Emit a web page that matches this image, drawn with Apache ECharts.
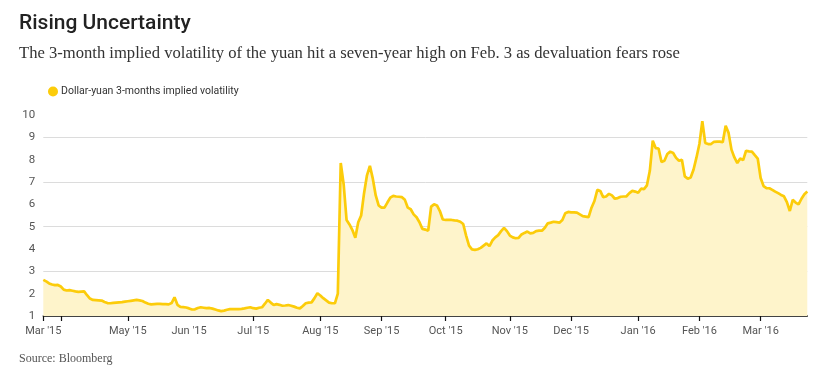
<!DOCTYPE html>
<html>
<head>
<meta charset="utf-8">
<script src="https://cdn.jsdelivr.net/npm/echarts@6/dist/echarts.min.js"></script>
<style>
  html, body { margin: 0; padding: 0; background: #fff; }
  #chart { width: 824px; height: 382px; }
</style>
</head>
<body>
<div id="chart"></div>
<script>
// ---- Data ----
const titleText = "Rising Uncertainty";
const subtitleText = "The 3-month implied volatility of the yuan hit a seven-year high on Feb. 3 as devaluation fears rose";
const sourceText = "Source: Bloomberg";
const seriesName = "Dollar-yuan 3-months implied volatility";

// month labels and number of observations in each month segment
const monthLabels = ["Mar '15", "May '15", "Jun '15", "Jul '15", "Aug '15", "Sep '15", "Oct '15", "Nov '15", "Dec '15", "Jan '16", "Feb '16", "Mar '16"];
const monthPoints = [29, 21, 22, 23, 21, 22, 22, 21, 23, 21, 21, 17];
const monthsWithoutTick = ["Jun '15"];
const extraTickIndex = [6];

const yTicks = [1, 2, 3, 4, 5, 6, 7, 8, 9, 10];

// implied volatility values (%), one per observation, grouped by month segment
const volMarApr15 = [2.62, 2.55, 2.46, 2.41, 2.38, 2.39, 2.32, 2.18, 2.14, 2.16, 2.13, 2.10, 2.08, 2.09, 2.10, 1.93, 1.78, 1.72, 1.71, 1.70, 1.69, 1.63, 1.58, 1.57, 1.59, 1.60, 1.61, 1.62, 1.64];
const volMay15 = [1.66, 1.68, 1.70, 1.72, 1.70, 1.67, 1.60, 1.55, 1.52, 1.53, 1.54, 1.54, 1.53, 1.53, 1.52, 1.58, 1.84, 1.50, 1.41, 1.40, 1.38];
const volJun15 = [1.34, 1.29, 1.30, 1.36, 1.39, 1.37, 1.35, 1.36, 1.33, 1.29, 1.25, 1.22, 1.24, 1.28, 1.31, 1.31, 1.31, 1.31, 1.32, 1.34, 1.37, 1.39];
const volJul15 = [1.35, 1.33, 1.37, 1.39, 1.55, 1.72, 1.60, 1.49, 1.53, 1.50, 1.46, 1.47, 1.49, 1.46, 1.42, 1.37, 1.34, 1.45, 1.57, 1.60, 1.61, 1.80, 2.02];
const volAug15 = [1.92, 1.80, 1.70, 1.60, 1.57, 1.57, 2.00, 7.85, 6.90, 5.30, 5.10, 4.85, 4.50, 5.20, 5.50, 6.50, 7.30, 7.72, 7.15, 6.40, 5.95];
const volSep15 = [5.85, 5.85, 6.08, 6.30, 6.38, 6.35, 6.34, 6.32, 6.20, 5.85, 5.78, 5.55, 5.42, 5.20, 4.90, 4.87, 4.82, 5.90, 6.00, 5.95, 5.70, 5.32];
const volOct15 = [5.30, 5.30, 5.30, 5.28, 5.27, 5.22, 5.12, 4.60, 4.15, 3.98, 3.96, 3.99, 4.05, 4.15, 4.25, 4.13, 4.38, 4.52, 4.62, 4.80, 4.95, 4.80];
const volNov15 = [4.60, 4.52, 4.48, 4.50, 4.65, 4.72, 4.78, 4.70, 4.72, 4.80, 4.82, 4.82, 4.95, 5.15, 5.18, 5.22, 5.20, 5.18, 5.30, 5.60, 5.66];
const volDec15 = [5.64, 5.64, 5.63, 5.55, 5.47, 5.45, 5.43, 5.85, 6.15, 6.65, 6.60, 6.32, 6.35, 6.47, 6.40, 6.25, 6.28, 6.34, 6.35, 6.36, 6.50, 6.60, 6.57];
const volJan16 = [6.52, 6.70, 6.68, 6.85, 7.50, 8.85, 8.52, 8.50, 7.90, 7.95, 8.25, 8.36, 8.30, 8.08, 7.95, 8.00, 7.25, 7.15, 7.20, 7.56, 8.10];
const volFeb16 = [8.70, 9.72, 8.75, 8.70, 8.70, 8.80, 8.81, 8.81, 8.78, 9.52, 9.20, 8.45, 8.10, 7.85, 8.05, 7.98, 8.40, 8.37, 8.36, 8.20, 8.05];
const volMar16 = [7.18, 6.82, 6.73, 6.72, 6.65, 6.57, 6.50, 6.42, 6.36, 6.10, 5.70, 6.20, 6.08, 6.00, 6.25, 6.45, 6.57];

// ---- Build category axis and series ----
const volSegments = [volMarApr15, volMay15, volJun15, volJul15, volAug15, volSep15, volOct15, volNov15, volDec15, volJan16, volFeb16, volMar16];
const categories = [];
const labelIndex = new Set();
const tickIndex = new Set(extraTickIndex);
monthLabels.forEach((m, k) => {
  labelIndex.add(categories.length);
  if (!monthsWithoutTick.includes(m)) tickIndex.add(categories.length);
  for (let j = 0; j < monthPoints[k]; j++) categories.push(j === 0 ? m : m + ' #' + (j + 1));
});
const values = [].concat(...volSegments);

const chart = echarts.init(document.getElementById('chart'), null, { renderer: 'canvas' });
chart.setOption({
  backgroundColor: '#ffffff',
  animation: false,
  title: [
    { text: titleText, left: 14, top: 8,
      textStyle: { fontFamily: 'Roboto', fontWeight: 500, fontSize: 21, color: '#222' } },
    { text: subtitleText, left: 14, top: 40,
      textStyle: { fontFamily: 'Liberation Serif', fontWeight: 'normal', fontSize: 16.6, color: '#333' } },
    { text: sourceText, left: 14, top: 348,
      textStyle: { fontFamily: 'Liberation Serif', fontWeight: 'normal', fontSize: 12, color: '#555' } }
  ],
  legend: {
    show: true, left: 43, top: 81,
    icon: 'circle', itemWidth: 10, itemHeight: 10, itemGap: 6,
    textStyle: { fontFamily: 'Roboto', fontSize: 10.5, color: '#333', padding: [0, 0, 0, -2] },
    data: [seriesName]
  },
  grid: { left: 43.3, right: 16.7, top: 115, bottom: 66, containLabel: false },
  xAxis: {
    type: 'category', data: categories, boundaryGap: false,
    axisLine: { show: true, lineStyle: { color: '#111', width: 1.5 } },
    axisTick: { show: true, length: 5, lineStyle: { color: '#111', width: 1.2 },
      interval: (i) => tickIndex.has(i) },
    axisLabel: { fontFamily: 'Roboto', fontSize: 11, color: '#555', margin: 10,
      interval: (i) => labelIndex.has(i) },
    splitLine: { show: false }
  },
  yAxis: {
    type: 'value', min: yTicks[0], max: yTicks[yTicks.length - 1], interval: 1,
    axisLine: { show: false }, axisTick: { show: false },
    axisLabel: { fontFamily: 'Roboto', fontSize: 11.5, color: '#555', margin: 8 },
    splitLine: { show: true, lineStyle: { color: ['#dcdcdc', 'rgba(0,0,0,0)'], width: 1 } }
  },
  series: [{
    name: seriesName, type: 'line', data: values,
    showSymbol: false, symbol: 'circle', smooth: false,
    lineStyle: { color: '#FCCC0A', width: 2.7 },
    itemStyle: { color: '#FCCC0A' },
    areaStyle: { color: '#FEF4CB', opacity: 1 }
  }]
});
</script>
</body>
</html>
